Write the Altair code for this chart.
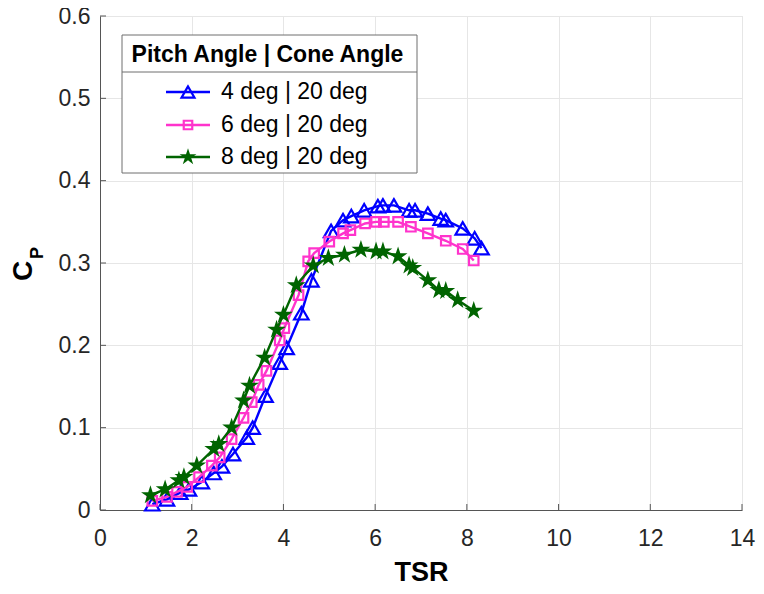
import altair as alt
import pandas as pd

# ---------------- data ----------------
series_names = ["4 deg | 20 deg", "6 deg | 20 deg", "8 deg | 20 deg"]
legend_title = "Pitch Angle | Cone Angle"

tsr_4 = [1.14, 1.46, 1.75, 1.94, 2.22, 2.48, 2.66, 2.90, 3.20, 3.33, 3.61, 3.92,
         4.07, 4.39, 4.61, 5.04, 5.30, 5.48, 5.76, 6.06, 6.17, 6.41, 6.74, 6.87,
         7.15, 7.43, 7.54, 7.91, 8.17, 8.32]
cp_4 = [0.007, 0.013, 0.021, 0.025, 0.034, 0.045, 0.053, 0.068, 0.088, 0.100, 0.139, 0.179,
        0.197, 0.239, 0.279, 0.339, 0.352, 0.357, 0.364, 0.369, 0.370, 0.370, 0.364, 0.364,
        0.360, 0.354, 0.352, 0.342, 0.330, 0.318]

tsr_6 = [1.14, 1.46, 1.68, 1.90, 2.16, 2.44, 2.61, 2.87, 3.13, 3.31, 3.46, 3.63,
         3.92, 4.02, 4.33, 4.54, 4.67, 5.00, 5.30, 5.46, 5.78, 6.02, 6.19, 6.50,
         6.78, 7.15, 7.54, 7.91, 8.15]
cp_6 = [0.011, 0.016, 0.022, 0.028, 0.040, 0.054, 0.064, 0.086, 0.112, 0.131, 0.152, 0.169,
        0.206, 0.221, 0.261, 0.302, 0.312, 0.326, 0.336, 0.340, 0.348, 0.350, 0.350, 0.350,
        0.344, 0.336, 0.327, 0.317, 0.303]

tsr_8 = [1.10, 1.42, 1.72, 1.83, 2.11, 2.48, 2.59, 2.87, 3.13, 3.26, 3.59, 3.85,
         4.00, 4.28, 4.65, 4.98, 5.33, 5.69, 6.02, 6.17, 6.50, 6.74, 6.82, 7.15,
         7.39, 7.54, 7.80, 8.15]
cp_8 = [0.018, 0.025, 0.036, 0.040, 0.054, 0.074, 0.080, 0.100, 0.133, 0.151, 0.185, 0.219,
        0.237, 0.273, 0.297, 0.306, 0.310, 0.316, 0.314, 0.314, 0.308, 0.297, 0.294, 0.279,
        0.267, 0.266, 0.255, 0.242]

x_ticks = [0, 2, 4, 6, 8, 10, 12, 14]
y_ticks = [0, 0.1, 0.2, 0.3, 0.4, 0.5, 0.6]

# ---------------- style ----------------
W, H = 642, 494
FONT = "Liberation Sans"
TXT = "#262626"
colors = ["#0000FF", "#FF33CC", "#006400"]
STAR = ("M0,-1L0.225,-0.309L0.951,-0.309L0.363,0.118L0.588,0.809L0,0.382"
        "L-0.588,0.809L-0.363,0.118L-0.951,-0.309L-0.225,-0.309Z")
marker_styles = [
    dict(shape="triangle-up", size=210, filled=False, strokeWidth=2.2),
    dict(shape="square", size=90, filled=False, strokeWidth=2.2),
    dict(shape=STAR, size=390, filled=True, strokeWidth=1),
]

xs = alt.Scale(domain=[0, 14], nice=False, zero=False)
ys = alt.Scale(domain=[0, 0.6], nice=False, zero=False)

x_axis = alt.Axis(values=x_ticks, title="TSR", grid=True, ticks=False,
                  labelFlush=False, labelPadding=17, titlePadding=9,
                  titleFontSize=27, titleFontWeight="bold", format="~g")
y_axis = alt.Axis(values=y_ticks, title=None, grid=True, ticks=False,
                  labelFlush=False, labelPadding=10, format="~g")

series = [(tsr_4, cp_4), (tsr_6, cp_6), (tsr_8, cp_8)]

layers = []
for i, ((xv, yv), name) in enumerate(zip(series, series_names)):
    df = pd.DataFrame({"TSR": xv, "CP": yv, "series": name})
    enc = dict(
        x=alt.X("TSR:Q", scale=xs, axis=x_axis),
        y=alt.Y("CP:Q", scale=ys, axis=y_axis),
    )
    line = alt.Chart(df).mark_line(color=colors[i], strokeWidth=2.4).encode(
        order="TSR:Q", **enc)
    ms = marker_styles[i]
    pts = alt.Chart(df).mark_point(
        shape=ms["shape"], size=ms["size"], filled=ms["filled"],
        color=colors[i], strokeWidth=ms["strokeWidth"], opacity=1
    ).encode(**enc)
    layers += [line, pts]

# inward tick marks
xt = pd.DataFrame({"TSR": x_ticks})
yt = pd.DataFrame({"CP": y_ticks})
layers.append(alt.Chart(xt).mark_rule(color="#555555", strokeWidth=1).encode(
    x=alt.X("TSR:Q", scale=xs, axis=x_axis), y=alt.value(H), y2=alt.value(H - 6)))
layers.append(alt.Chart(yt).mark_rule(color="#555555", strokeWidth=1).encode(
    y=alt.Y("CP:Q", scale=ys, axis=y_axis), x=alt.value(0), x2=alt.value(6)))

one = pd.DataFrame({"k": [0]})

# y axis title  C_P
layers.append(alt.Chart(one).mark_text(
    font=FONT, fontSize=28, fontWeight="bold", color="#000000", angle=270,
    align="center", baseline="middle").encode(
    x=alt.value(-76), y=alt.value(255), text=alt.value("C")))
layers.append(alt.Chart(one).mark_text(
    font=FONT, fontSize=18, fontWeight="bold", color="#000000", angle=270,
    align="center", baseline="middle").encode(
    x=alt.value(-62), y=alt.value(237), text=alt.value("P")))

# custom legend box
LX0, LX1, LY0, LY1, LSEP = 22, 317, 19, 157, 56
layers.append(alt.Chart(one).mark_rect(
    fill="white", stroke="#6e6e6e", strokeWidth=1).encode(
    x=alt.value(LX0), x2=alt.value(LX1), y=alt.value(LY0), y2=alt.value(LY1)))
layers.append(alt.Chart(one).mark_rule(color="#6e6e6e", strokeWidth=1).encode(
    x=alt.value(LX0), x2=alt.value(LX1), y=alt.value(LSEP)))
layers.append(alt.Chart(one).mark_text(
    font=FONT, fontSize=23, fontWeight="bold", color="#000000",
    align="center", baseline="middle").encode(
    x=alt.value((LX0 + LX1) / 2 - 2), y=alt.value(39), text=alt.value(legend_title)))

rows = [76, 109, 141]
for i, name in enumerate(series_names):
    ms = marker_styles[i]
    layers.append(alt.Chart(one).mark_rule(color=colors[i], strokeWidth=2.4).encode(
        x=alt.value(66), x2=alt.value(110), y=alt.value(rows[i])))
    layers.append(alt.Chart(one).mark_point(
        shape=ms["shape"], size=ms["size"] * 0.8, filled=ms["filled"],
        color=colors[i], strokeWidth=ms["strokeWidth"], opacity=1).encode(
        x=alt.value(88), y=alt.value(rows[i])))
    layers.append(alt.Chart(one).mark_text(
        font=FONT, fontSize=23, color="#000000", align="left",
        baseline="middle").encode(
        x=alt.value(121), y=alt.value(rows[i]), text=alt.value(name)))

chart = alt.layer(*layers).properties(
    width=W, height=H,
    padding={"left": 92, "top": 8, "right": 14, "bottom": 76},
    autosize=alt.AutoSizeParams(type="none"),
    background="white",
).configure_view(
    stroke="#dcdcdc", strokeWidth=1
).configure_axis(
    labelFont=FONT, titleFont=FONT, labelFontSize=23, labelColor=TXT,
    titleColor="#000000", domainColor="#555555", domainWidth=1,
    gridColor="#e6e6e6", gridWidth=1,
)

chart.save("out.html", embed_options={"renderer": "svg", "actions": False})
